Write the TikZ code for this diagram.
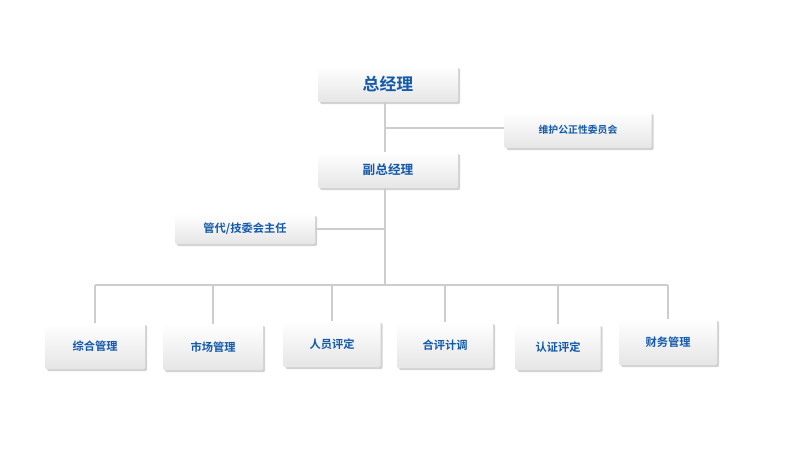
\documentclass[tikz,border=0pt]{standalone}
\usepackage{fontspec}
\setmainfont{Noto Sans CJK SC}[BoldFont={Noto Sans CJK SC Bold}]
\usetikzlibrary{positioning,shadows}
\definecolor{boxblue}{RGB}{20,90,170}
\definecolor{linegray}{RGB}{205,205,205}
\tikzset{
  post/.style={draw=none,top color=white,bottom color=black!10,
    drop shadow={shadow xshift=1.5pt,shadow yshift=-1.5pt,fill=black!35,opacity=.5},
    rounded corners=1pt,font=\bfseries\small,text=boxblue,minimum height=36*0.025cm},
  link/.style={draw=linegray,line width=1pt}
}
\begin{document}
\begin{tikzpicture}[x=0.025cm,y=-0.025cm]
    \useasboundingbox (0,0) rectangle (800,472);
    % Top
    \node[post,minimum width=140*0.025cm,font=\bfseries\large] (gm) at (388,84) {总经理};
    \node[post,minimum width=147*0.025cm,font=\bfseries\scriptsize] (comm) at (578,130) {维护公正性委员会};
    \node[post,minimum width=140*0.025cm] (vgm) at (388,170) {副总经理};
    \node[post,minimum width=140*0.025cm,minimum height=30*0.025cm,font=\bfseries\footnotesize] (rep) at (245,229) {管代/技委会主任};

    % Bottom departments
    \foreach \name/\x/\y/\w/\txt in {d1/95/346/100/综合管理, d2/213/347/100/市场管理,
        d3/332/344/97/人员评定, d4/445/345/96/合评计调, d5/558/347/85/认证评定, d6/668/342/98/财务管理} {
        \node[post,minimum width=\w*0.025cm,minimum height=46*0.025cm,font=\bfseries\footnotesize] (\name) at (\x,\y) {\txt};
    }

    % Lines
    \coordinate (bus) at (385,285);
    \coordinate (j1) at (385,128);
    \coordinate (j2) at (385,229);
    \draw[link] (gm.south -| bus) -- (vgm.north -| bus);
    \draw[link] (vgm.south -| bus) -- (bus);
    \draw[link] (j1) -- (comm.west |- j1);
    \draw[link] (j2) -- (rep.east |- j2);
    \draw[link] (d1.north |- bus) -- (d6.north |- bus);
    \foreach \name in {d1,d2,d3,d4,d5,d6}
        \draw[link] (\name.north |- bus) -- (\name.north);
\end{tikzpicture}
\end{document}
